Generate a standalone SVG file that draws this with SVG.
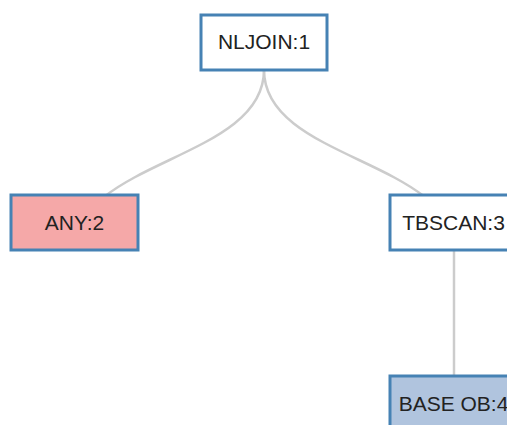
<svg xmlns="http://www.w3.org/2000/svg" width="507" height="425" viewBox="0 0 507 425">
  <style>
    .link { fill: none; stroke: #cccccc; stroke-width: 2.5; }
    .node rect { fill: #ffffff; stroke: #4682b4; stroke-width: 3; }
    .node.any rect { fill: #f5a8a8; }
    .node.base rect { fill: #b0c4de; }
    .node text { font-family: "Liberation Sans", Arial, sans-serif; font-size: 21px; fill: #222222; text-anchor: middle; }
  </style>
  <rect width="507" height="425" fill="#ffffff"/>
  <g id="links">
    <path class="link" d="M264,70 C264,160 75,160 75,250"/>
    <path class="link" d="M264,70 C264,160 454,160 454,250"/>
    <path class="link" d="M454,250 L454,430"/>
  </g>
  <g id="node-nljoin-1" class="node">
    <rect x="201" y="15" width="126" height="55"/>
    <text x="264" y="48.5">NLJOIN:1</text>
  </g>
  <g id="node-any-2" class="node any">
    <rect x="11" y="195" width="127" height="55"/>
    <text x="74.5" y="230">ANY:2</text>
  </g>
  <g id="node-tbscan-3" class="node">
    <rect x="390" y="195" width="127" height="55"/>
    <text x="453.5" y="230">TBSCAN:3</text>
  </g>
  <g id="node-base-ob-4" class="node base">
    <rect x="390" y="376" width="127" height="55"/>
    <text x="453.5" y="411">BASE OB:4</text>
  </g>
</svg>
